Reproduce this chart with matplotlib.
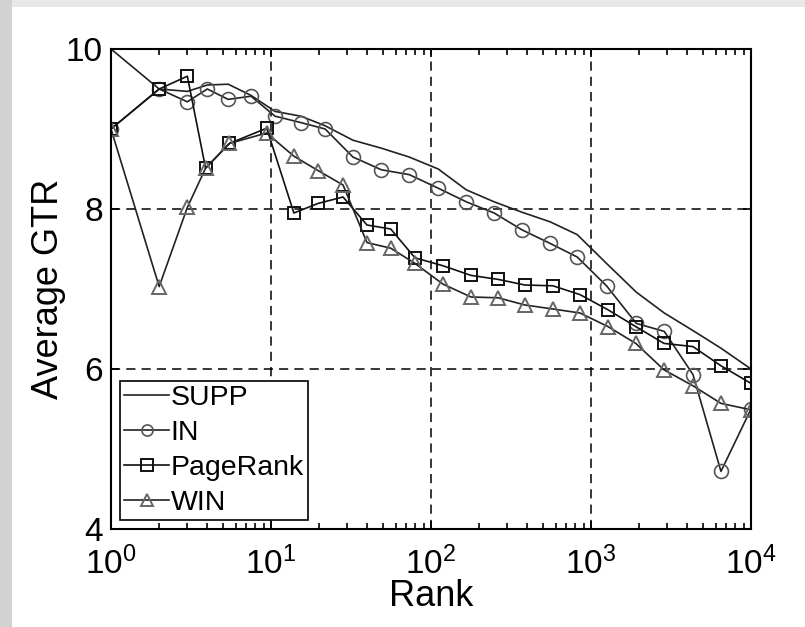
import numpy as np
import matplotlib
matplotlib.use("Agg")
import matplotlib.pyplot as plt
from matplotlib.patches import Rectangle
from matplotlib.ticker import LogLocator, NullFormatter, FixedLocator

plt.rcParams['font.family'] = ['Liberation Sans', 'DejaVu Sans']
plt.rcParams['mathtext.fontset'] = 'custom'
plt.rcParams['mathtext.rm'] = 'Liberation Sans'
plt.rcParams['mathtext.it'] = 'Liberation Sans:italic'

# ranks (x) for IN / SUPP
rank_in = [1, 2, 3, 4, 5.4, 7.5, 10.6, 15.4, 21.8, 32.5, 49, 73, 111, 166, 248,
           370, 555, 820, 1250, 1920, 2870, 4340, 6490, 10000]
supp = [10.0, 9.50, 9.47, 9.55, 9.56, 9.42, 9.22, 9.16, 9.04, 8.86, 8.76, 8.65,
        8.50, 8.24, 8.09, 7.96, 7.84, 7.68, 7.32, 6.96, 6.70, 6.48, 6.26, 6.0]
in_deg = [9.0, 9.50, 9.34, 9.50, 9.37, 9.41, 9.16, 9.08, 9.0, 8.65, 8.49, 8.43,
          8.26, 8.09, 7.95, 7.74, 7.57, 7.40, 7.04, 6.57, 6.47, 5.93, 4.72, 5.5]

# ranks (x) for PageRank / WIN
rank_pr = [1, 2, 3, 3.9, 5.5, 9.4, 13.9, 19.7, 28.2, 39.8, 56, 79.4, 119, 178,
           263, 386, 578, 853, 1277, 1905, 2858, 4340, 6494, 10000]
pagerank = [9.0, 9.5, 9.66, 8.51, 8.82, 9.01, 7.95, 8.07, 8.15, 7.80, 7.75, 7.39,
            7.29, 7.17, 7.12, 7.05, 7.04, 6.93, 6.74, 6.53, 6.32, 6.28, 6.04, 5.82]
win = [9.0, 7.03, 8.02, 8.51, 8.82, 8.95, 8.66, 8.48, 8.30, 7.58, 7.51, 7.32,
       7.06, 6.90, 6.89, 6.80, 6.75, 6.70, 6.53, 6.32, 5.99, 5.79, 5.57, 5.49]

fig = plt.figure(figsize=(8.05, 6.27), dpi=100)
fig.patch.set_facecolor('white')
fig.patches.append(Rectangle((0, 1 - 7 / 627), 1, 7 / 627, transform=fig.transFigure,
                             facecolor='#e8e8e8', edgecolor='none', zorder=0))
fig.patches.append(Rectangle((0, 0), 12 / 805, 1, transform=fig.transFigure,
                             facecolor='#d2d2d2', edgecolor='none', zorder=0))

ax = fig.add_axes([111 / 805, 1 - 529 / 627, 640 / 805, 480 / 627])

ax.plot(rank_in, supp, '-', color='#222222', lw=1.2, label='SUPP')
ax.plot(rank_in, in_deg, '-o', color='#222222', lw=1.2, ms=10, mfc='none',
        mec='#555555', mew=1.2, label='IN')
ax.plot(rank_pr, pagerank, '-s', color='#111111', lw=1.2, ms=8.5, mfc='none',
        mec='#111111', mew=1.4, label='PageRank')
ax.plot(rank_pr, win, '-^', color='#222222', lw=1.2, ms=10, mfc='none',
        mec='#666666', mew=1.4, label='WIN')

ax.set_xscale('log')
ax.set_xlim(1, 1e4)
ax.set_ylim(4, 10)
ax.yaxis.set_major_locator(FixedLocator([4, 6, 8, 10]))
ax.xaxis.set_major_locator(LogLocator(base=10, numticks=10))
ax.xaxis.set_minor_locator(LogLocator(base=10, subs=np.arange(2, 10), numticks=20))
ax.xaxis.set_minor_formatter(NullFormatter())

ax.tick_params(which='both', direction='in', top=True, right=True, labelsize=24,
               width=1.2, colors='black')
ax.tick_params(which='major', length=6)
ax.tick_params(which='minor', length=4)
ax.tick_params(axis='x', pad=13)
ax.tick_params(axis='y', pad=6)
for s in ax.spines.values():
    s.set_linewidth(1.5)

ax.grid(True, which='major', color='black', linestyle=(0, (6, 4)), lw=1.1)
ax.set_axisbelow(True)

ax.set_xlabel('Rank', fontsize=26, labelpad=-2)
ax.set_ylabel('Average GTR', fontsize=26, labelpad=0)

leg = ax.legend(loc='lower left', fontsize=20.5, frameon=True, fancybox=False,
                edgecolor='black', framealpha=1, borderpad=0.15, labelspacing=0.32,
                handlelength=1.6, handletextpad=0.05, borderaxespad=0.3)
leg.get_frame().set_linewidth(1.2)
for h in leg.legend_handles:
    h.set_markersize(8)

fig.savefig('out.png', dpi=100, facecolor=fig.get_facecolor())
